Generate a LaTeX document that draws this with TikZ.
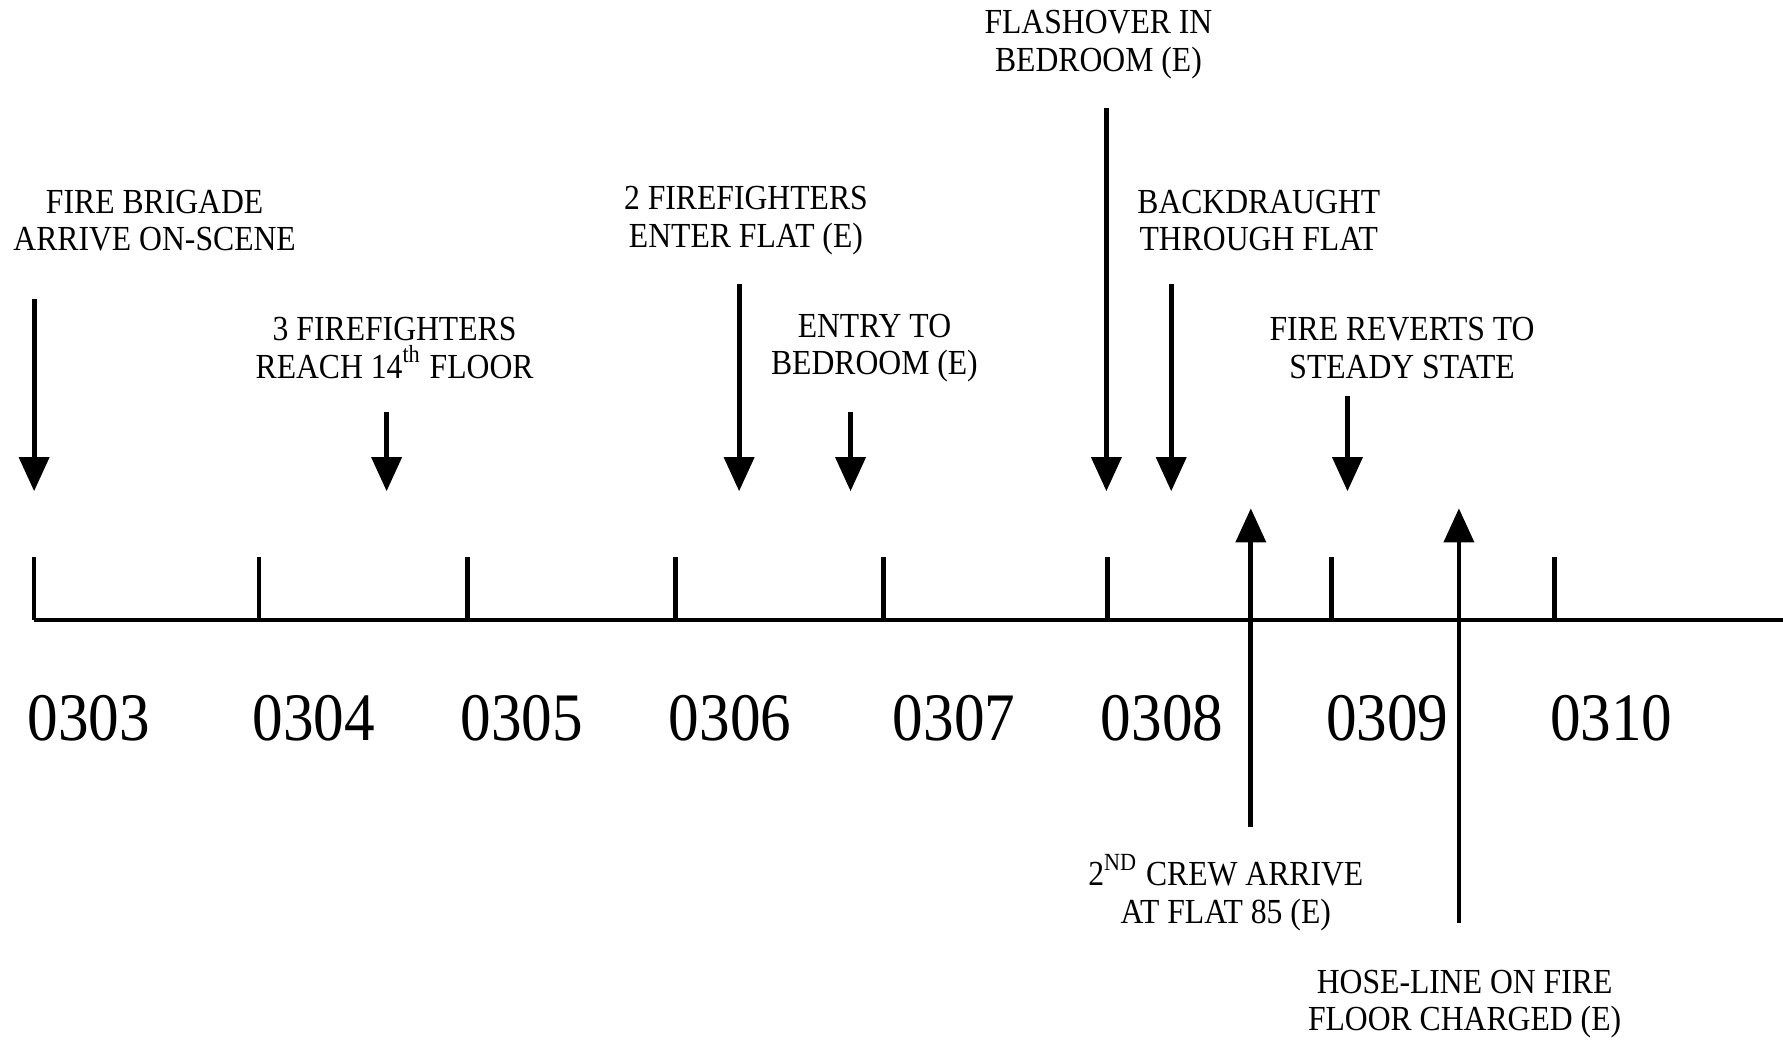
\documentclass[tikz,border=0pt]{standalone}
\usepackage{fontspec}
\setmainfont[FakeStretch=0.9]{Liberation Serif}
\usetikzlibrary{arrows.meta}
\begin{document}
\begin{tikzpicture}[x=0.01cm, y=-0.01cm,
  event/.style={align=center, inner sep=0pt, font=\fontsize{8.8}{9.4}\selectfont},
  hour/.style={inner sep=0pt, font=\fontsize{17}{17}\selectfont},
  axisline/.style={-, line width=1.1pt, draw=black},
  eventarrow/.style={-{Triangle[width=7.4pt, length=8.5pt]}, tips=on proper draw, line width=1.2pt, draw=black}]
\useasboundingbox (0,0) rectangle (1568,915);
\coordinate (A0) at (30,545);
\coordinate (A1) at (1568,545);
\coordinate (T3) at (30,490);   \coordinate (B3) at (30,545);
\coordinate (T4) at (228,490);  \coordinate (B4) at (228,545);
\coordinate (T5) at (411,490);  \coordinate (B5) at (411,545);
\coordinate (T6) at (594,490);  \coordinate (B6) at (594,545);
\coordinate (T7) at (777,490);  \coordinate (B7) at (777,545);
\coordinate (T8) at (974,490);  \coordinate (B8) at (974,545);
\coordinate (T9) at (1171,490); \coordinate (B9) at (1171,545);
\coordinate (T10) at (1367,490); \coordinate (B10) at (1367,545);
\node[hour] (h3) at (78,632) {0303};
\node[hour] (h4) at (276,632) {0304};
\node[hour] (h5) at (459,632) {0305};
\node[hour] (h6) at (642,632) {0306};
\node[hour] (h7) at (839,632) {0307};
\node[hour] (h8) at (1022,632) {0308};
\node[hour] (h9) at (1220,632) {0309};
\node[hour] (h10) at (1417,632) {0310};
\node[event] (brigade) at (136,194) {FIRE BRIGADE\\ARRIVE ON-SCENE};
\node[event] (reach) at (347,306) {3 FIREFIGHTERS\\REACH 14\textsuperscript{th} FLOOR};
\node[event] (enter) at (656,194) {2 FIREFIGHTERS\\ENTER FLAT (E)};
\node[event] (entry) at (769,306) {ENTRY TO\\BEDROOM (E)};
\node[event] (flash) at (966,39) {FLASHOVER IN\\BEDROOM (E)};
\node[event] (back) at (1107,194) {BACKDRAUGHT\\THROUGH FLAT};
\node[event] (steady) at (1233,306) {FIRE REVERTS TO\\STEADY STATE};
\node[event] (crew) at (1078,785) {2\textsuperscript{ND} CREW ARRIVE\\AT FLAT 85 (E)};
\node[event] (hose) at (1288,883) {HOSE-LINE ON FIRE\\FLOOR CHARGED (E)};
\coordinate (s1) at (30,263);   \coordinate (e1) at (30,432);
\coordinate (s2) at (340,362);  \coordinate (e2) at (340,432);
\coordinate (s3) at (650,250);  \coordinate (e3) at (650,432);
\coordinate (s4) at (748,362);  \coordinate (e4) at (748,432);
\coordinate (s5) at (973,95);   \coordinate (e5) at (973,432);
\coordinate (s6) at (1030,250); \coordinate (e6) at (1030,432);
\coordinate (s7) at (1185,348); \coordinate (e7) at (1185,432);
\coordinate (s8) at (1100,727); \coordinate (e8) at (1100,447);
\coordinate (s9) at (1283,812); \coordinate (e9) at (1283,447);
\path [axisline] (A0) edge (A1);
\path [axisline] (T3) edge (B3);
\path [axisline] (T4) edge (B4);
\path [axisline] (T5) edge (B5);
\path [axisline] (T6) edge (B6);
\path [axisline] (T7) edge (B7);
\path [axisline] (T8) edge (B8);
\path [axisline] (T9) edge (B9);
\path [axisline] (T10) edge (B10);
\path [eventarrow] (s1) edge (e1);
\path [eventarrow] (s2) edge (e2);
\path [eventarrow] (s3) edge (e3);
\path [eventarrow] (s4) edge (e4);
\path [eventarrow] (s5) edge (e5);
\path [eventarrow] (s6) edge (e6);
\path [eventarrow] (s7) edge (e7);
\path [eventarrow] (s8) edge (e8);
\path [eventarrow] (s9) edge (e9);
\end{tikzpicture}
\end{document}
